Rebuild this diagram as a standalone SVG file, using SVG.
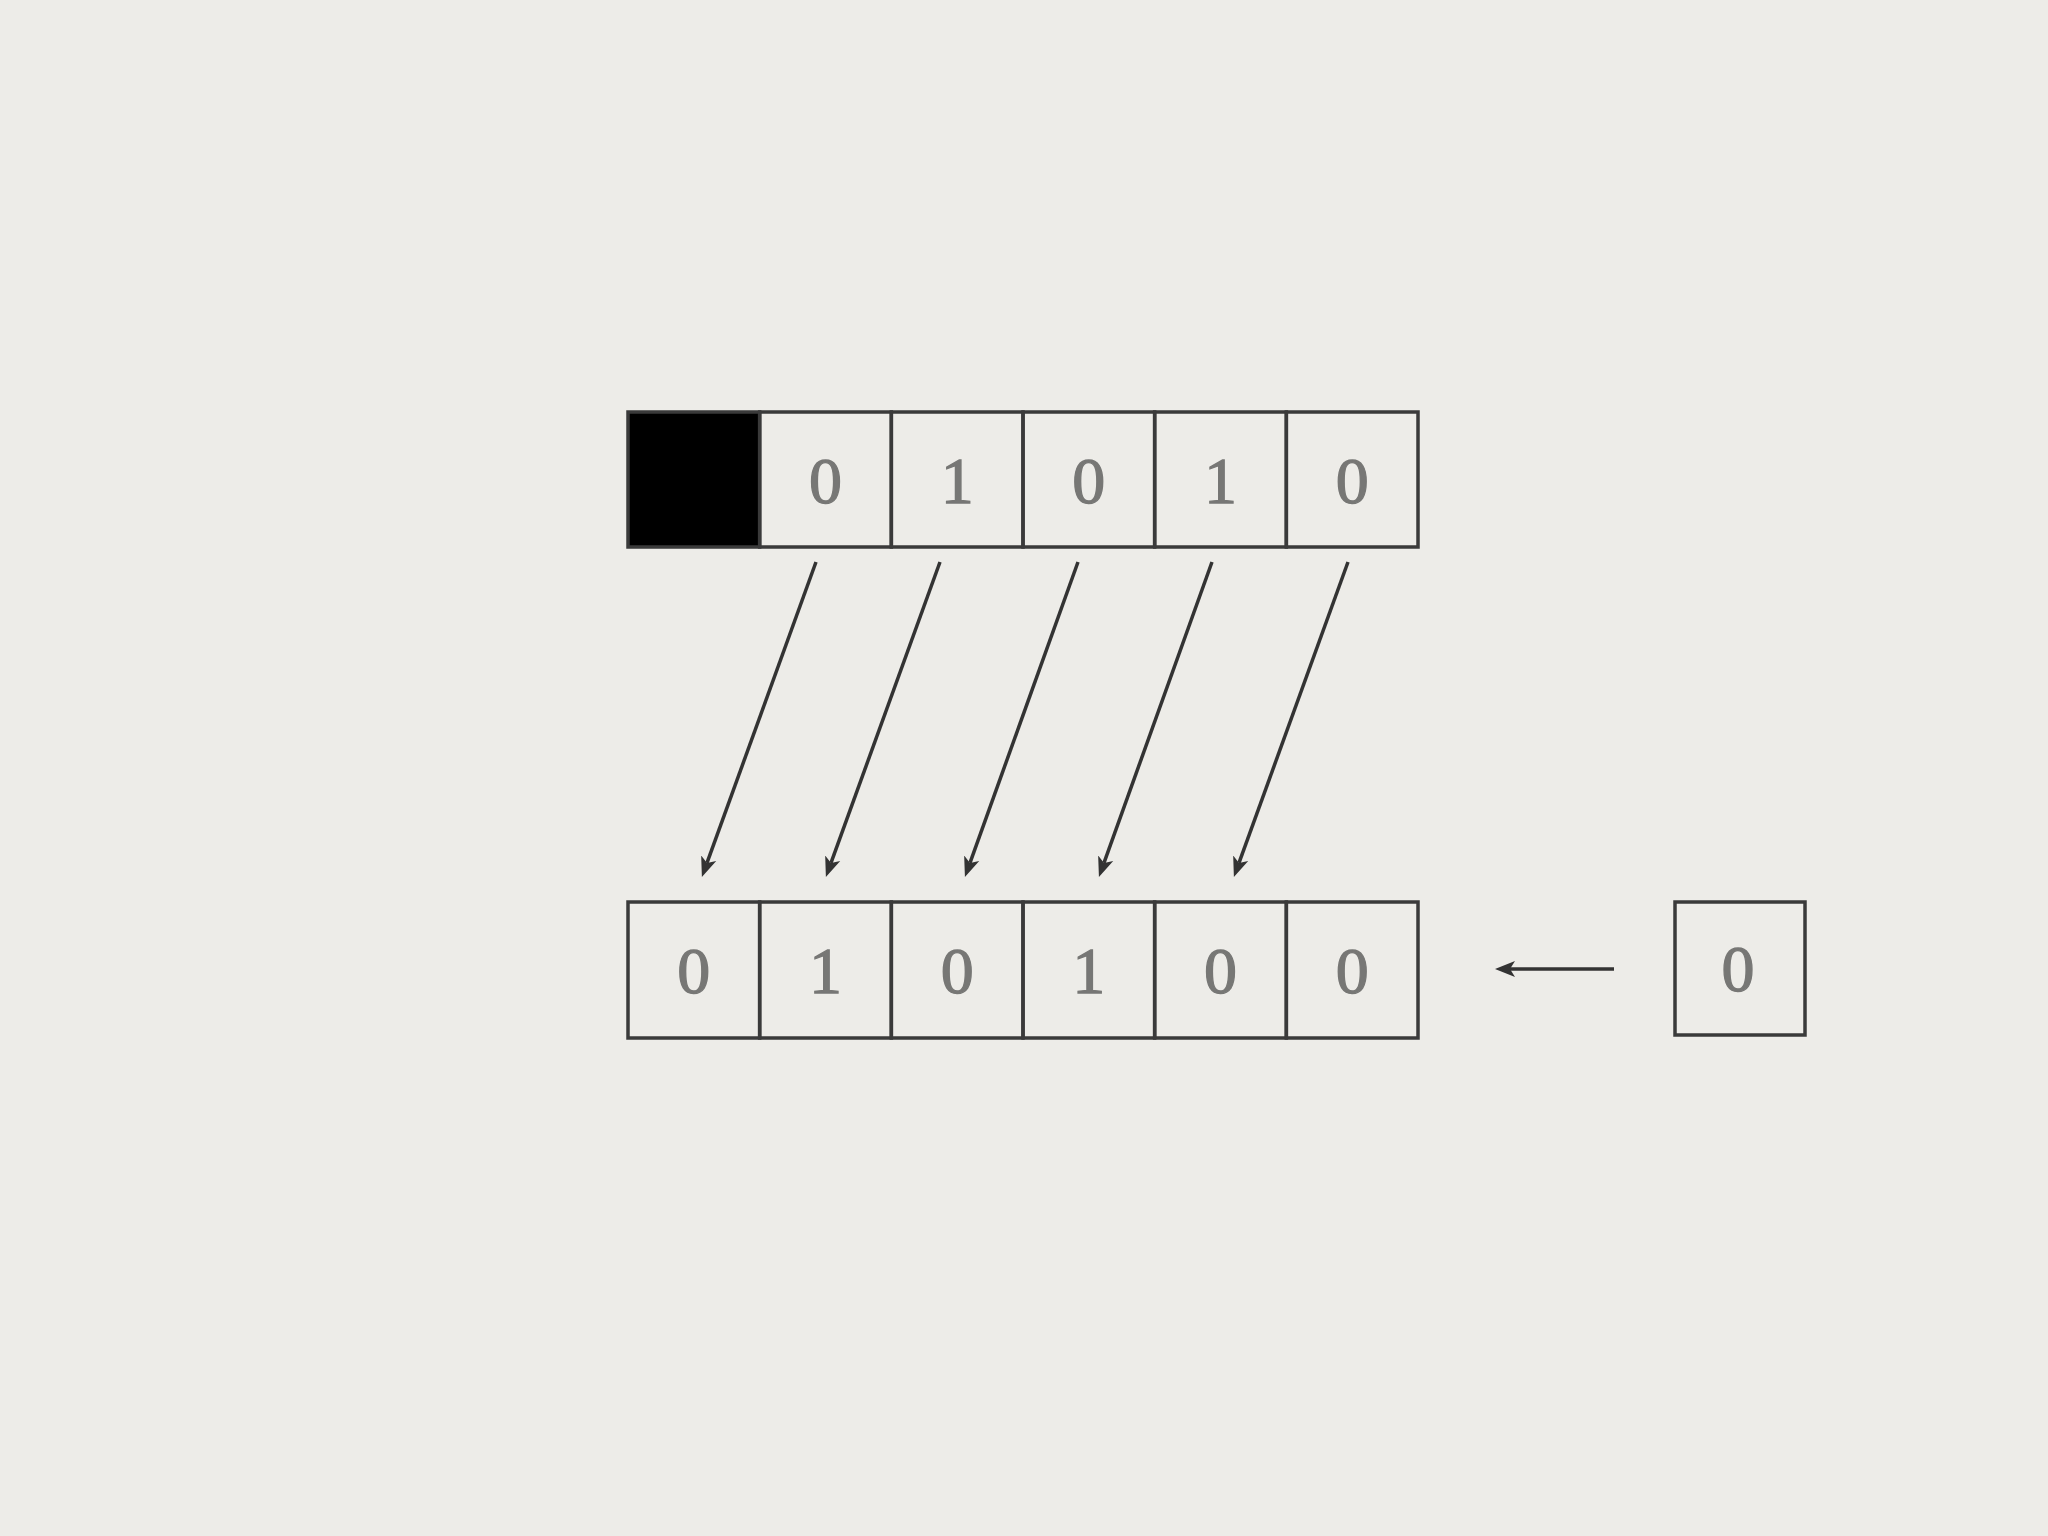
<svg xmlns="http://www.w3.org/2000/svg" width="2048" height="1536" viewBox="0 0 2048 1536">
  <defs>
    <marker id="ah" viewBox="0 -9 21 18" refX="5" refY="0" markerWidth="21" markerHeight="18" markerUnits="userSpaceOnUse" orient="auto">
      <path d="M0,-8 L20,0 L0,8 L5,0 z" fill="#333333"/>
    </marker>
  </defs>
  <style>
    .cell { fill: none; stroke: #3a3a3a; stroke-width: 3.5; }
    .blk { fill: #000000; stroke: #3a3a3a; stroke-width: 3.5; }
    .dig { font-family: "Liberation Serif", "Times New Roman", serif; font-size: 66px; fill: #777775; stroke: #777775; stroke-width: 1.3; text-anchor: middle; }
    .conn { stroke: #333333; stroke-width: 3.5; fill: none; marker-end: url(#ah); }
  </style>
  <rect x="0" y="0" width="2048" height="1536" fill="#edece8"/>

  <g id="top-row">
    <g id="t0"><rect class="blk" x="628" y="412" width="131.67" height="135"/></g>
    <g id="t1"><rect class="cell" x="759.67" y="412" width="131.67" height="135"/><text class="dig" x="825.5" y="503">0</text></g>
    <g id="t2"><rect class="cell" x="891.33" y="412" width="131.67" height="135"/><text class="dig" x="957.2" y="503">1</text></g>
    <g id="t3"><rect class="cell" x="1023" y="412" width="131.67" height="135"/><text class="dig" x="1088.8" y="503">0</text></g>
    <g id="t4"><rect class="cell" x="1154.67" y="412" width="131.67" height="135"/><text class="dig" x="1220.5" y="503">1</text></g>
    <g id="t5"><rect class="cell" x="1286.33" y="412" width="131.67" height="135"/><text class="dig" x="1352.2" y="503">0</text></g>
  </g>

  <g id="bottom-row">
    <g id="b0"><rect class="cell" x="628" y="902" width="131.67" height="136"/><text class="dig" x="693.8" y="993">0</text></g>
    <g id="b1"><rect class="cell" x="759.67" y="902" width="131.67" height="136"/><text class="dig" x="825.5" y="993">1</text></g>
    <g id="b2"><rect class="cell" x="891.33" y="902" width="131.67" height="136"/><text class="dig" x="957.2" y="993">0</text></g>
    <g id="b3"><rect class="cell" x="1023" y="902" width="131.67" height="136"/><text class="dig" x="1088.8" y="993">1</text></g>
    <g id="b4"><rect class="cell" x="1154.67" y="902" width="131.67" height="136"/><text class="dig" x="1220.5" y="993">0</text></g>
    <g id="b5"><rect class="cell" x="1286.33" y="902" width="131.67" height="136"/><text class="dig" x="1352.2" y="993">0</text></g>
  </g>

  <g id="input-bit">
    <rect class="cell" x="1675" y="902" width="130" height="133"/>
    <text class="dig" x="1738" y="991">0</text>
  </g>

  <g id="connectors">
    <line class="conn" x1="816" y1="562" x2="707" y2="862.9"/>
    <line class="conn" x1="940" y1="562" x2="831" y2="862.9"/>
    <line class="conn" x1="1078" y1="562" x2="970" y2="862.9"/>
    <line class="conn" x1="1212" y1="562" x2="1104" y2="862.9"/>
    <line class="conn" x1="1348" y1="562" x2="1239" y2="862.9"/>
    <line class="conn" x1="1614" y1="969" x2="1510" y2="969"/>
  </g>
</svg>
